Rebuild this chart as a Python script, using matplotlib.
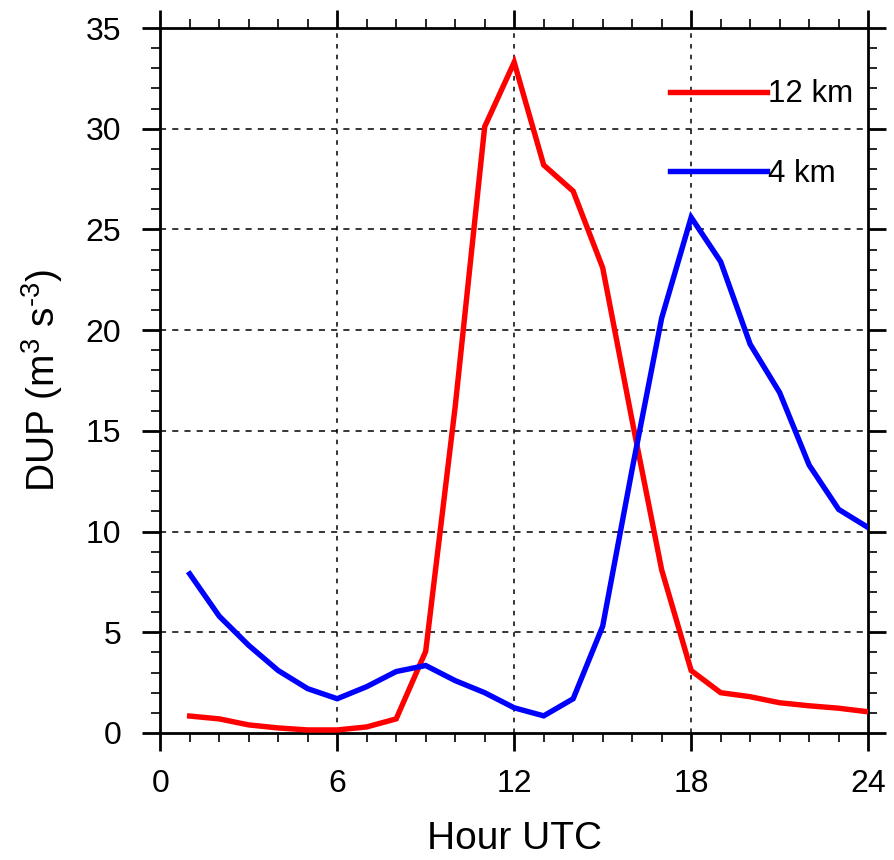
import matplotlib
matplotlib.use("Agg")
import matplotlib.pyplot as plt
from matplotlib.ticker import MultipleLocator

# hourly DUP values (hour 1..24)
hours = list(range(1, 25))
dup_12km = [0.84, 0.70, 0.40, 0.25, 0.15, 0.15, 0.30, 0.70, 4.05, 16.2, 30.1, 33.3,
            28.2, 26.9, 23.1, 15.5, 8.1, 3.1, 2.0, 1.8, 1.5, 1.35, 1.23, 1.05]
dup_4km = [7.9, 5.8, 4.35, 3.1, 2.2, 1.7, 2.3, 3.05, 3.35, 2.6, 2.0, 1.25,
           0.85, 1.7, 5.3, 13.1, 20.6, 25.6, 23.4, 19.3, 16.9, 13.3, 11.1, 10.2]
series_labels = ["12 km", "4 km"]
series_colors = ["red", "blue"]

x_ticks = [0, 6, 12, 18, 24]
y_ticks = [0, 5, 10, 15, 20, 25, 30, 35]

plt.rcParams["font.family"] = ["Liberation Sans", "DejaVu Sans"]
plt.rcParams["mathtext.fontset"] = "custom"
plt.rcParams["mathtext.rm"] = "Liberation Sans"
plt.rcParams["mathtext.it"] = "Liberation Sans"

fig = plt.figure(figsize=(8.95, 8.6), dpi=100)
ax = fig.add_axes([0.179, 0.1477, 0.791, 0.8197])

for vals, lab, col in zip([dup_12km, dup_4km], series_labels, series_colors):
    ax.plot(hours, vals, color=col, lw=3.9, label=lab, solid_joinstyle="miter", zorder=3)

ax.set_xlim(0, 24)
ax.set_ylim(0, 35)
ax.set_xticks(x_ticks)
ax.set_yticks(y_ticks)
ax.xaxis.set_minor_locator(MultipleLocator(1))
ax.yaxis.set_minor_locator(MultipleLocator(1))

# dashed grid, only on interior major ticks
for xv in x_ticks[1:-1]:
    ax.axvline(xv, color="black", lw=1.1, ls=(0, (3, 4)), zorder=1)
for yv in y_ticks[1:-1]:
    ax.axhline(yv, color="black", lw=1.1, ls=(0, (4, 4)), zorder=1)

for sp in ax.spines.values():
    sp.set_linewidth(2.0)
ax.tick_params(which="both", direction="out", top=True, right=True, labelsize=23)
ax.tick_params(which="major", length=13, width=2.0)
ax.tick_params(which="minor", length=6.5, width=1.2)
ax.tick_params(axis="x", which="major", pad=13)
ax.tick_params(axis="y", which="major", pad=15)

ax.set_xlabel("Hour UTC", fontsize=28, labelpad=16)
ax.set_ylabel(r"DUP (m$^{3}$ s$^{\text{-3}}$)", fontsize=28, labelpad=15)

ax.legend(loc="upper left", bbox_to_anchor=(0.72, 0.927), frameon=False,
          fontsize=22.5, handlelength=3.1, handletextpad=0.05,
          labelspacing=1.58, borderpad=0, borderaxespad=0)

fig.savefig("out.png", dpi=100)
